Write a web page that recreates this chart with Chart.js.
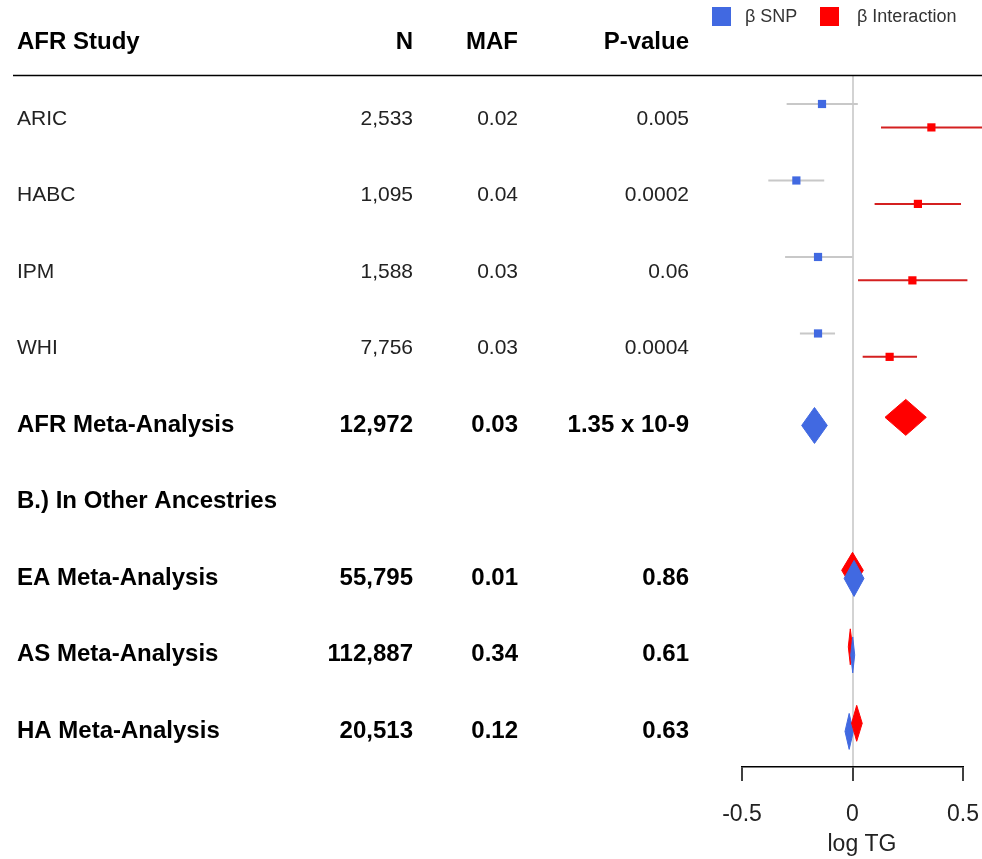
<!DOCTYPE html>
<html>
<head>
<meta charset="utf-8">
<script src="https://cdn.jsdelivr.net/npm/chart.js@4/dist/chart.umd.min.js"></script>
<style>
  html, body { margin: 0; padding: 0; background: #fff; }
  canvas { display: block; }
</style>
</head>
<body>
<canvas id="forest" width="982" height="859"></canvas>
<script>
// ---- Table contents ----
const tableHeaders = ['AFR Study', 'N', 'MAF', 'P-value'];
const studies = ['ARIC', 'HABC', 'IPM', 'WHI', 'AFR Meta-Analysis', 'B.) In Other Ancestries',
                 'EA Meta-Analysis', 'AS Meta-Analysis', 'HA Meta-Analysis'];
const rowKinds = ['study', 'study', 'study', 'study', 'summary', 'section', 'summary', 'summary', 'summary'];
const sampleSizes = ['2,533', '1,095', '1,588', '7,756', '12,972', '', '55,795', '112,887', '20,513'];
const mafValues = ['0.02', '0.04', '0.03', '0.03', '0.03', '', '0.01', '0.34', '0.12'];
const pValues = ['0.005', '0.0002', '0.06', '0.0004', '1.35 x 10-9', '', '0.86', '0.61', '0.63'];

// ---- Effect estimates (log TG) with confidence limits ----
const snpBeta  = [-0.138, -0.254, -0.156, -0.156, -0.172, null,  0.007,  0.001, -0.015];
const snpLower = [-0.298, -0.381, -0.305, -0.238, -0.230, null, -0.038, -0.008, -0.034];
const snpUpper = [ 0.024, -0.128,  0.000, -0.079, -0.114, null,  0.052,  0.010,  0.004];
const intBeta  = [ 0.357,  0.296,  0.271,  0.168,  0.241, null,  0.000, -0.010,  0.019];
const intLower = [ 0.129,  0.100,  0.025,  0.046,  0.147, null, -0.049, -0.019, -0.004];
const intUpper = [ 0.590,  0.491,  0.520,  0.292,  0.334, null,  0.049,  0.000,  0.044];

const xTicks = [-0.5, 0, 0.5];
const xTitle = 'log TG';
const legendLabels = ['\u03B2 SNP', '\u03B2 Interaction'];

// ---- Styling / layout ----
const FONT = '"Liberation Sans", Arial, Helvetica, sans-serif';
const BLUE = '#4169E1';
const RED = '#FF0000';
const SNP_BAR = '#c8c8c8';
const INT_BAR = '#d42020';
const ROW_SHIFT = {              // vertical placement of the two effects inside a row
  study:   { snp: -0.183, int: 0.123 },
  summary: { snp: 0.02,  int: -0.086 }
};
const DIAMOND_HALF = 0.235;      // half height of summary diamonds, in row units
const COL = { study: 17, n: 413, maf: 518, p: 689 };
const TEXT_NUDGE = 1;            // px, optical centring of table text

function rowY(i, which) {
  const s = ROW_SHIFT[rowKinds[i]];
  return i + (s ? s[which] : 0);
}

// confidence-interval segments, separated by gaps
function barSegments(lo, hi, which) {
  const pts = [];
  studies.forEach((_, i) => {
    if (rowKinds[i] !== 'study') return;
    const y = rowY(i, which);
    pts.push({ x: lo[i], y }, { x: hi[i], y }, { x: hi[i], y: null });
  });
  return pts;
}
function squarePoints(est, which) {
  const pts = [];
  studies.forEach((_, i) => {
    if (rowKinds[i] === 'study') pts.push({ x: est[i], y: rowY(i, which) });
  });
  return pts;
}
function diamond(i, est, lo, hi, which) {
  const y = rowY(i, which);
  return [
    { x: lo[i], y }, { x: est[i], y: y - DIAMOND_HALF },
    { x: hi[i], y }, { x: est[i], y: y + DIAMOND_HALF }, { x: lo[i], y }
  ];
}

const datasets = [];
// summary diamonds
studies.forEach((_, i) => {
  if (rowKinds[i] !== 'summary') return;
  const redOnTop = i === 8;
  datasets.push({
    label: 'snp-summary-' + i, data: diamond(i, snpBeta, snpLower, snpUpper, 'snp'),
    showLine: true, fill: 'shape', backgroundColor: BLUE, borderColor: BLUE, borderWidth: 1,
    pointRadius: 0, clip: false, order: redOnTop ? 3 : 2
  });
  datasets.push({
    label: 'int-summary-' + i, data: diamond(i, intBeta, intLower, intUpper, 'int'),
    showLine: true, fill: 'shape', backgroundColor: RED, borderColor: RED, borderWidth: 1,
    pointRadius: 0, clip: false, order: redOnTop ? 2 : 3
  });
});
// study-level confidence intervals
datasets.push({
  label: 'snp-ci', data: barSegments(snpLower, snpUpper, 'snp'), showLine: true, spanGaps: false,
  borderColor: SNP_BAR, borderWidth: 2, pointRadius: 0, clip: false, order: 5
});
datasets.push({
  label: 'int-ci', data: barSegments(intLower, intUpper, 'int'), showLine: true, spanGaps: false,
  borderColor: INT_BAR, borderWidth: 2, pointRadius: 0, clip: false, order: 5
});
// study-level point estimates
datasets.push({
  label: legendLabels[0], data: squarePoints(snpBeta, 'snp'), pointStyle: 'rect',
  pointRadius: 5.8, backgroundColor: BLUE, borderColor: BLUE, borderWidth: 0, clip: false, order: 1
});
datasets.push({
  label: legendLabels[1], data: squarePoints(intBeta, 'int'), pointStyle: 'rect',
  pointRadius: 5.8, backgroundColor: RED, borderColor: RED, borderWidth: 0, clip: false, order: 1
});

// table text, header rule, axis title and legend
const tablePlugin = {
  id: 'studyTable',
  afterDraw(chart) {
    const ctx = chart.ctx;
    const ys = chart.scales.y;
    const area = chart.chartArea;
    ctx.save();
    ctx.textBaseline = 'middle';

    const hy = ys.getPixelForValue(-1) + TEXT_NUDGE;
    ctx.fillStyle = '#000';
    ctx.font = 'bold 24px ' + FONT;
    ctx.textAlign = 'left';
    ctx.fillText(tableHeaders[0], COL.study, hy);
    ctx.textAlign = 'right';
    ctx.fillText(tableHeaders[1], COL.n, hy);
    ctx.fillText(tableHeaders[2], COL.maf, hy);
    ctx.fillText(tableHeaders[3], COL.p, hy);

    const ry = Math.round(ys.getPixelForValue(-0.56)) + 0.5;
    ctx.strokeStyle = '#000';
    ctx.lineWidth = 1.5;
    ctx.beginPath();
    ctx.moveTo(13, ry);
    ctx.lineTo(chart.width, ry);
    ctx.stroke();

    studies.forEach((name, i) => {
      const y = ys.getPixelForValue(i) + TEXT_NUDGE;
      const bold = rowKinds[i] !== 'study';
      ctx.font = (bold ? 'bold 24px ' : '21px ') + FONT;
      ctx.fillStyle = bold ? '#000' : '#222';
      ctx.textAlign = 'left';
      ctx.fillText(name, COL.study, y);
      ctx.textAlign = 'right';
      ctx.fillText(sampleSizes[i], COL.n, y);
      ctx.fillText(mafValues[i], COL.maf, y);
      ctx.fillText(pValues[i], COL.p, y);
    });

    // x-axis title, centred under the whole plotting region
    ctx.font = '23px ' + FONT;
    ctx.fillStyle = '#222';
    ctx.textAlign = 'center';
    ctx.fillText(xTitle, (area.left + chart.width) / 2, 845);

    // legend swatches for the two point-estimate series
    const items = chart.data.datasets.filter(d => legendLabels.includes(d.label));
    const lx = [712, 820];
    const tx = [745, 857];
    ctx.font = '18px ' + FONT;
    ctx.textAlign = 'left';
    items.forEach((d, k) => {
      ctx.fillStyle = d.backgroundColor;
      ctx.fillRect(lx[k], 7, 19, 19);
      ctx.fillStyle = '#333';
      ctx.fillText(d.label, tx[k], 17);
    });
    ctx.restore();
  }
};

new Chart(document.getElementById('forest'), {
  type: 'scatter',
  data: { datasets },
  options: {
    responsive: false,
    animation: false,
    devicePixelRatio: 1,
    layout: { padding: { left: 742, right: 19, top: 76, bottom: 10.5 } },
    plugins: { legend: { display: false }, tooltip: { enabled: false } },
    scales: {
      x: {
        type: 'linear', min: xTicks[0], max: xTicks[xTicks.length - 1],
        afterBuildTicks: axis => { axis.ticks = xTicks.map(v => ({ value: v })); },
        afterFit: axis => { axis.paddingLeft = 0; axis.paddingRight = 0; },
        ticks: { font: { family: FONT, size: 23 }, color: '#222', padding: 20, maxRotation: 0, autoSkip: false },
        grid: {
          drawOnChartArea: true,
          color: c => (c.tick && c.tick.value === 0 ? '#d3d3d3' : 'rgba(0,0,0,0)'),
          lineWidth: 2, tickColor: '#000', tickWidth: 1.5, tickLength: 14
        },
        border: { display: true, color: '#000', width: 1.5 },
        title: { display: false }
      },
      y: { type: 'linear', reverse: true, min: -0.549, max: 8.484, display: false }
    }
  },
  plugins: [tablePlugin]
});
</script>
</body>
</html>
